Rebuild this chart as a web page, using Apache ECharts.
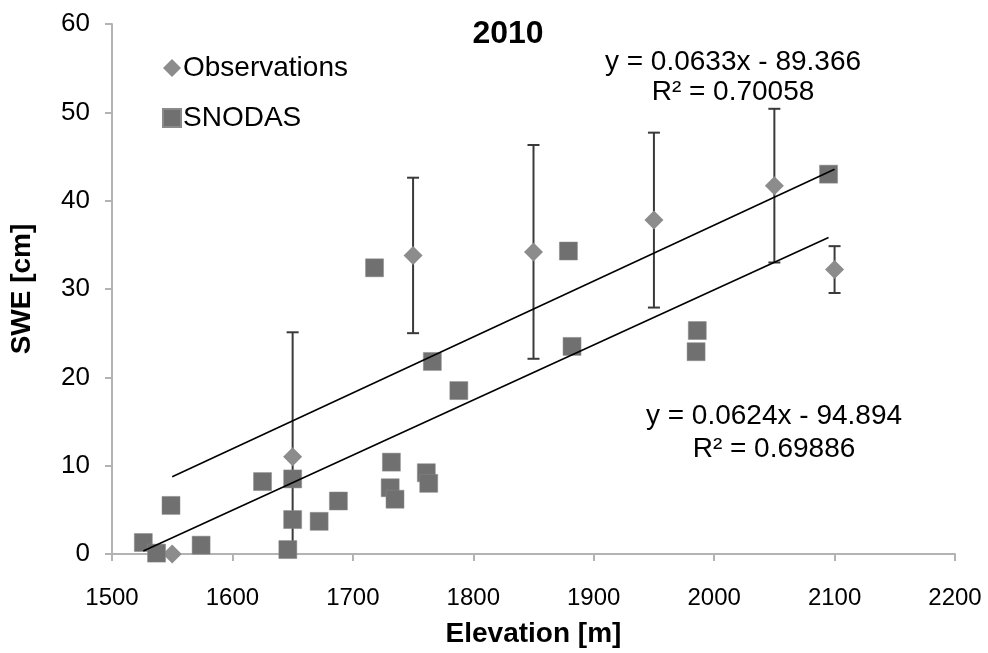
<!DOCTYPE html>
<html>
<head>
<meta charset="utf-8">
<style>
  html, body { margin: 0; padding: 0; background: #fff; }
  #chart { width: 988px; height: 653px; }
</style>
<script src="https://cdn.jsdelivr.net/npm/echarts@6/dist/echarts.min.js"></script>
</head>
<body>
<div id="chart"></div>
<script>
// Station observations: elevation [m], mean SWE [cm], +/- spread [cm]
const obsElevation = [1550, 1650, 1750, 1850, 1950, 2050, 2100];
const obsSwe       = [0, 11.0, 33.8, 34.2, 37.8, 41.7, 32.2];
const obsSpread    = [0, 14.1, 8.8, 12.1, 9.9, 8.7, 2.65];

// SNODAS grid-cell values: elevation [m], SWE [cm]
const snodasElevation = [1526, 1537, 1549, 1574, 1625, 1650, 1650, 1646, 1672, 1688, 1718, 1731,
                         1732, 1735, 1761, 1763, 1766, 1788, 1879, 1882, 1986, 1985, 2095];
const snodasSwe       = [1.3, 0.1, 5.5, 1.0, 8.2, 8.5, 3.9, 0.5, 3.7, 6.0, 32.4, 7.5,
                         10.4, 6.2, 9.2, 8.0, 21.8, 18.5, 34.3, 23.5, 25.3, 22.9, 43.0];

// Linear fits (slope, intercept, R²)
const obsFit    = { slope: 0.0633, intercept: -89.366, r2: '0.70058' };
const snodasFit = { slope: 0.0624, intercept: -94.894, r2: '0.69886' };

const xTicks = [1500, 1600, 1700, 1800, 1900, 2000, 2100, 2200];
const yTicks = [0, 10, 20, 30, 40, 50, 60];

const FONT = '"Liberation Sans", Arial, Helvetica, sans-serif';

function fitLine(fit, xs) {
  const lo = Math.min.apply(null, xs), hi = Math.max.apply(null, xs);
  return [[lo, fit.slope * lo + fit.intercept], [hi, fit.slope * hi + fit.intercept]];
}
function fitText(fit) {
  const sign = fit.intercept < 0 ? '-' : '+';
  return 'y = ' + fit.slope + 'x ' + sign + ' ' + Math.abs(fit.intercept).toFixed(3);
}
function note(text, x, y) {
  return {
    type: 'text', x: x, y: y,
    style: { text: text, fontFamily: FONT, fontSize: 28, fill: '#000', align: 'center', verticalAlign: 'middle' }
  };
}

const obsPoints = obsElevation.map((x, i) => [x, obsSwe[i]]);
const errPoints = obsElevation.map((x, i) => [x, obsSwe[i] - obsSpread[i], obsSwe[i] + obsSpread[i]]);
const snodasPoints = snodasElevation.map((x, i) => [x, snodasSwe[i]]);

const chart = echarts.init(document.getElementById('chart'), null, { renderer: 'canvas' });

chart.setOption({
  animation: false,
  backgroundColor: '#ffffff',
  grid: { left: 111, right: 33, top: 24, bottom: 96 },
  title: {
    text: '2010',
    left: 503, top: 13, textAlign: 'center',
    textStyle: { fontFamily: FONT, fontSize: 32, fontWeight: 'bold', color: '#000' }
  },
  legend: {
    data: ['Observations', 'SNODAS'],
    orient: 'vertical',
    left: 157, top: 49,
    itemWidth: 18, itemHeight: 18, itemGap: 22,
    textStyle: { fontFamily: FONT, fontSize: 28, color: '#000', padding: [0, 0, 0, -3] }
  },
  xAxis: {
    type: 'value', min: 1500, max: 2200, interval: 100,
    name: 'Elevation [m]', nameLocation: 'middle', nameGap: 66,
    nameTextStyle: { fontFamily: FONT, fontSize: 28, fontWeight: 'bold', color: '#000' },
    axisLine: { show: true, onZero: false, lineStyle: { color: '#b3b3b3', width: 2 } },
    axisTick: { show: true, length: 7, lineStyle: { color: '#b3b3b3', width: 2 } },
    axisLabel: {
      margin: 32, fontFamily: FONT, fontSize: 24, color: '#000',
      formatter: v => (xTicks.indexOf(v) >= 0 ? String(v) : '')
    },
    splitLine: { show: false }
  },
  yAxis: {
    type: 'value', min: 0, max: 60, interval: 10,
    name: 'SWE [cm]', nameLocation: 'middle', nameGap: 76, nameRotate: 90,
    nameTextStyle: { fontFamily: FONT, fontSize: 28, fontWeight: 'bold', color: '#000' },
    axisLine: { show: true, lineStyle: { color: '#b3b3b3', width: 2 } },
    axisTick: { show: true, length: 7, lineStyle: { color: '#b3b3b3', width: 2 } },
    axisLabel: {
      margin: 22, fontFamily: FONT, fontSize: 26, color: '#000',
      formatter: v => (yTicks.indexOf(v) >= 0 ? String(v) : '')
    },
    splitLine: { show: false }
  },
  graphic: [
    note(fitText(obsFit), 733, 62),
    note('R² = ' + obsFit.r2, 733, 92),
    note(fitText(snodasFit), 774, 416),
    note('R² = ' + snodasFit.r2, 774, 449)
  ],
  series: [
    {
      name: 'spread',
      type: 'custom',
      clip: true,
      z: 2,
      data: errPoints,
      renderItem: function (params, api) {
        const lo = api.value(1), hi = api.value(2);
        if (hi - lo <= 0) return null;
        const x = api.value(0);
        const pLo = api.coord([x, lo]);
        const pHi = api.coord([x, hi]);
        const cap = 6;
        const style = { stroke: '#3a3a3a', lineWidth: 2 };
        return {
          type: 'group',
          children: [
            { type: 'line', shape: { x1: pLo[0], y1: pLo[1], x2: pHi[0], y2: pHi[1] }, style },
            { type: 'line', shape: { x1: pHi[0] - cap, y1: pHi[1], x2: pHi[0] + cap, y2: pHi[1] }, style },
            { type: 'line', shape: { x1: pLo[0] - cap, y1: pLo[1], x2: pLo[0] + cap, y2: pLo[1] }, style }
          ]
        };
      }
    },
    {
      name: 'Observations',
      type: 'scatter',
      symbol: 'diamond',
      symbolSize: [19, 19],
      z: 3,
      itemStyle: { color: '#8c8c8c', opacity: 1 },
      data: obsPoints
    },
    {
      name: 'SNODAS',
      type: 'scatter',
      symbol: 'rect',
      symbolSize: 18,
      z: 4,
      itemStyle: { color: '#707070', borderColor: '#8a8a8a', borderWidth: 0.5, opacity: 1 },
      data: snodasPoints
    },
    {
      name: 'Observations fit',
      type: 'line',
      symbol: 'none',
      z: 5,
      lineStyle: { color: '#000', width: 1.6 },
      data: fitLine(obsFit, obsElevation)
    },
    {
      name: 'SNODAS fit',
      type: 'line',
      symbol: 'none',
      z: 5,
      lineStyle: { color: '#000', width: 1.6 },
      data: fitLine(snodasFit, snodasElevation)
    }
  ]
});
</script>
</body>
</html>
